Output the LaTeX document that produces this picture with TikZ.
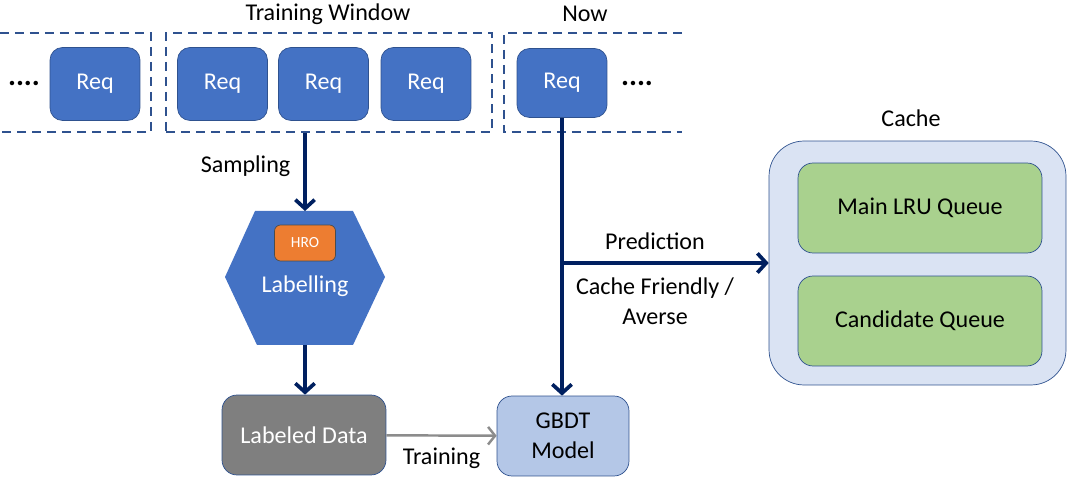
\documentclass[tikz,border=0pt]{standalone}
\usepackage{fontspec}
\setmainfont{Carlito}
\usetikzlibrary{arrows.meta}

\definecolor{reqblue}{HTML}{4472C4}
\definecolor{edgeblue}{HTML}{2F528F}
\definecolor{navy}{HTML}{002060}
\definecolor{hroorange}{HTML}{ED7D31}
\definecolor{datagray}{HTML}{7F7F7F}
\definecolor{traingray}{HTML}{8C8C8C}
\definecolor{modelblue}{HTML}{B4C7E7}
\definecolor{cachebg}{HTML}{DAE3F3}
\definecolor{queuegreen}{HTML}{A9D18E}

\begin{document}
\begin{tikzpicture}[x=0.02cm,y=-0.02cm,
  font=\fontsize{13.7}{17}\selectfont,
  req/.style={draw=edgeblue,fill=reqblue,text=white,rounded corners=0.25cm,
    minimum width=1.8cm,minimum height=1.46cm,inner sep=0pt},
  win/.style={draw=edgeblue,dash pattern=on 0.18cm off 0.12cm,line width=1.1pt},
  flow/.style={draw=navy,line width=2.1pt,-{Straight Barb[length=5pt,width=11pt]}},
  queue/.style={draw=edgeblue,fill=queuegreen,rounded corners=0.3cm,
    minimum width=4.88cm,minimum height=1.8cm}]
\useasboundingbox (0,0) rectangle (1068,479);

% request stream
\draw[win] (0,33) -- (151,33) -- (151,132) -- (0,132);
\node[win,minimum width=6.52cm,minimum height=1.98cm,inner sep=0pt] (trainwin) at (329,82.5) {};
\draw[win] (682,33) -- (504,33) -- (504,132) -- (682,132);
\node at (328,14) {Training Window};
\node at (585,14) {Now};

\node[font=\fontsize{17}{20}\selectfont\bfseries] (dotsl) at (24,84) {....};
\node[req] (req0) at (95,84) {Req};
\node[req] (req1) at (222.5,84) {Req};
\node[req] (req2) at (323.5,84) {Req};
\node[req] (req3) at (426,84) {Req};
\node[req,minimum height=1.38cm] (nowreq) at (562,83) {Req};
\node[font=\fontsize{17}{20}\selectfont\bfseries] (dotsr) at (637,84) {....};

% labelling step
\fill[reqblue] (255,211) -- (353,211) -- (385,277) -- (353,345) -- (257,345) -- (225,277) -- cycle;
\coordinate (hextop) at (305,211);
\coordinate (hexbot) at (305,345);
\node[draw=black!70,fill=hroorange,text=white,rounded corners=0.12cm,
  minimum width=1.22cm,minimum height=0.72cm,inner sep=0pt,
  font=\fontsize{8.8}{10}\selectfont] (hro) at (305,243) {HRO};
\node[text=white] (lab) at (305,286) {Labelling};

\node[draw=edgeblue,fill=datagray,text=white,rounded corners=0.3cm,
  minimum width=3.28cm,minimum height=1.6cm] (data) at (304,435) {Labeled Data};
\node[draw=edgeblue,fill=modelblue,rounded corners=0.3cm,align=center,
  minimum width=2.64cm,minimum height=1.6cm] (model) at (563,436) {GBDT\\Model};

% cache
\node[draw=edgeblue,fill=cachebg,rounded corners=0.7cm,
  minimum width=5.94cm,minimum height=4.88cm] (cache) at (917.5,263) {};
\node at (911,118) {Cache};
\node[queue] (mainq) at (920,208) {Main LRU Queue};
\node[queue] (candq) at (920,321) {Candidate Queue};

% arrows
\draw[flow] (trainwin.south -| hextop) -- (hextop) node[pos=0.42,left=4pt] {Sampling};
\draw[flow] (hexbot) -- (data.north -| hexbot);
\draw[draw=traingray,line width=1.4pt,-{Straight Barb[length=4pt,width=10pt]}] (data) -- (model)
  node[midway,below=3pt] {Training};
\draw[flow] (nowreq.south) -- (model.north -| nowreq.south);
\draw[flow] (nowreq.south |- cache.west) -- (cache.west)
  node[pos=0.45,above=3pt] {Prediction}
  node[pos=0.45,below=4pt,align=center] {Cache Friendly /\\Averse};
\end{tikzpicture}
\end{document}
